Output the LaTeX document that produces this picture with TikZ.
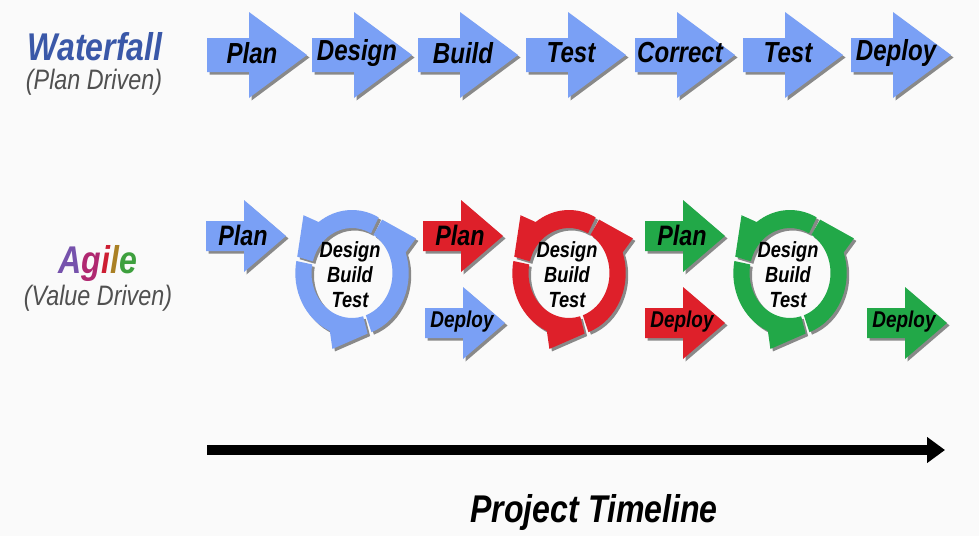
\documentclass[tikz,border=0pt]{standalone}
\usepackage{fontspec}
\setmainfont{Liberation Sans}[FakeStretch=0.83]
\usepackage{tikz}
\usetikzlibrary{positioning,arrows.meta,shadows}

\definecolor{bgcol}{RGB}{250,250,250}
\definecolor{ablue}{RGB}{122,160,245}
\definecolor{ared}{RGB}{222,32,42}
\definecolor{agreen}{RGB}{34,168,72}
\definecolor{wfblue}{RGB}{58,88,168}
\definecolor{subgray}{RGB}{80,80,80}
\definecolor{agA}{RGB}{118,82,172}
\definecolor{agg}{RGB}{176,40,112}
\definecolor{agi}{RGB}{205,30,50}
\definecolor{agl}{RGB}{170,128,36}
\definecolor{age}{RGB}{62,160,62}

\begin{document}
\begin{tikzpicture}[
  x=0.2mm, y=-0.2mm, >=Stealth,
  shd/.style={drop shadow={shadow xshift=0.5mm, shadow yshift=-0.5mm,
              opacity=0.45, fill=black}},
  head/.style={font=\fontsize{22}{24}\selectfont\bfseries\itshape, inner sep=0pt},
  sub/.style={font=\fontsize{16}{18}\selectfont\itshape, text=subgray, inner sep=0pt},
  wtxt/.style={font=\fontsize{16.5}{18}\selectfont\bfseries\itshape, inner sep=0pt},
  ptxt/.style={font=\fontsize{16}{18}\selectfont\bfseries\itshape, inner sep=0pt},
  dtxt/.style={font=\fontsize{13}{15}\selectfont\bfseries\itshape, inner sep=0pt},
  cyctxt/.style={font=\fontsize{12.5}{14.2}\selectfont\bfseries\itshape,
                 align=center, inner sep=0pt},
  tltxt/.style={font=\fontsize{22}{24}\selectfont\bfseries\itshape, inner sep=0pt},
]
\fill[bgcol] (0,0) rectangle (979,536);

% row labels
\node[head, text=wfblue] (wf)  at (95,47)  {Waterfall};
\node[sub]               (wfs) at (94,82)  {(Plan Driven)};
\node[head] (ag)  at (98,263) {{\color{agA}A}{\color{agg}g}{\color{agi}i}{\color{agl}l}{\color{age}e}};
\node[sub]  (ags) at (98,298) {(Value Driven)};

% waterfall steps
\foreach \x/\t [count=\i] in {207/Plan, 312/Design, 418/Build, 526/Test,
                              635/Correct, 743/Test, 851/Deploy} {
  \fill[ablue, shd] (\x,38) -- (\x+42,38) -- (\x+42,12) -- (\x+100,55)
    -- (\x+42,98) -- (\x+42,72) -- (\x,72) -- cycle;
  \node[wtxt] (w\i) at (\x+45,53) {\t};
}

% agile plan / deploy arrows
\foreach \x/\y/\col/\t/\sty [count=\i] in {206/236/ablue/Plan/ptxt, 423/236/ared/Plan/ptxt,
      645/236/agreen/Plan/ptxt, 425/323/ablue/Deploy/dtxt,
      645/323/ared/Deploy/dtxt, 867/323/agreen/Deploy/dtxt} {
  \fill[\col, shd] (\x,\y-15) -- (\x+38,\y-15) -- (\x+38,\y-36) -- (\x+80,\y)
    -- (\x+38,\y+36) -- (\x+38,\y+15) -- (\x,\y+15) -- cycle;
  \node[\sty] (a\i) at (\x+37,\y-1) {\t};
}

% design-build-test cycles
\foreach \cx/\col [count=\i] in {352/ablue, 569/ared, 790/agreen} {
  \begin{scope}[shift={(\cx,273)}, xscale=0.9]
    \foreach \a/\b in {60/167, 167/288, 288/420}
      \fill[\col, shd] (-\a-2:45) arc[start angle=-\a-2, end angle=-\b+2, radius=45]
        -- (-\b+2:63) -- (-\b+34:79) -- (-\b+41:63)
        arc[start angle=-\b+41, end angle=-\a-2, radius=63] -- cycle;
  \end{scope}
  \node[cyctxt] (c\i) at (\cx-2,275) {Design\\Build\\Test};
}

% timeline
\coordinate (t0) at (207,450);
\coordinate (t1) at (945,450);
\draw[line width=2mm, -{Triangle[length=3.6mm, width=5mm]}] (t0) -- (t1);
\node[tltxt] (tl) at (594,512) {Project Timeline};
\end{tikzpicture}
\end{document}
